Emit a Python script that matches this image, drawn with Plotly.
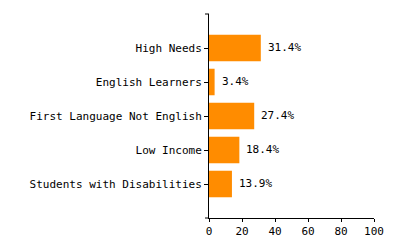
import plotly.graph_objects as go

categories = ["High Needs", "English Learners", "First Language Not English",
              "Low Income", "Students with Disabilities"]
values = [31.4, 3.4, 27.4, 18.4, 13.9]
labels = ["31.4%", "3.4%", "27.4%", "18.4%", "13.9%"]
x_ticks = [0, 20, 40, 60, 80, 100]

FONT = "DejaVu Sans Mono"

fig = go.Figure(go.Bar(
    x=values, y=categories, orientation="h",
    marker=dict(color="#FF8C00", line=dict(width=0)),
    hoverinfo="skip",
))

for c, v, t in zip(categories, values, labels):
    fig.add_annotation(x=v, y=c, text=t, showarrow=False, xanchor="left",
                       xshift=5, yshift=1, font=dict(family=FONT, size=11, color="black"))

# outer ticks of the y-axis domain (top and bottom)
for yy in (0, 1):
    fig.add_shape(type="line", xref="paper", yref="paper",
                  xsizemode="pixel", xanchor=0, x0=-4, x1=0, y0=yy, y1=yy,
                  line=dict(color="black", width=1))

fig.update_layout(
    width=400, height=250,
    margin=dict(l=209, r=26, t=14, b=29),
    paper_bgcolor="white", plot_bgcolor="white",
    bargap=0.22,
    showlegend=False,
    font=dict(family=FONT, size=11, color="black"),
    xaxis=dict(range=[0, 100], tickvals=x_ticks, showgrid=False, zeroline=False,
               showline=True, linecolor="black", linewidth=1,
               ticks="outside", ticklen=3, tickcolor="black",
               tickfont=dict(family=FONT, size=11, color="black")),
    yaxis=dict(categoryorder="array", categoryarray=categories,
               range=[len(categories), -1], showgrid=False, zeroline=False,
               showline=True, linecolor="black", linewidth=1,
               ticks="outside", ticklen=4, tickcolor="black",
               tickfont=dict(family=FONT, size=11, color="black")),
)

fig.write_html("out.html")
